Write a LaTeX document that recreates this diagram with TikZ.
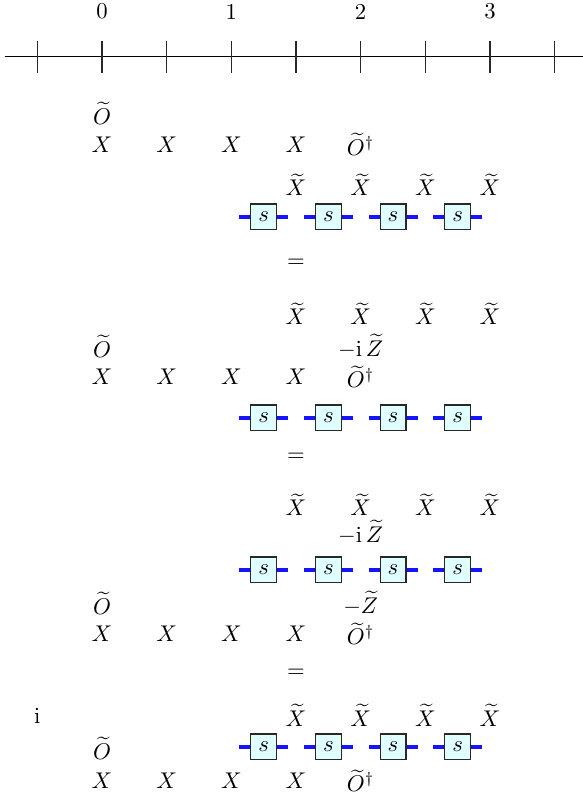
\documentclass[tikz,border=0pt]{standalone}
\usepackage{amsmath}
\usepackage{tikz}
\usetikzlibrary{positioning}
\definecolor{legblue}{RGB}{20,20,255}
\definecolor{boxfill}{RGB}{224,255,255}
\definecolor{mydark}{RGB}{40,40,40}
\tikzset{
  sbox/.style={rectangle, draw=mydark, fill=boxfill,
    minimum size=0.4cm, inner sep=0pt, line width=0.5pt},
  leg/.style={color=legblue, line width=1.9pt},
  axtick/.style={color=mydark, line width=0.5pt},
  axline/.style={color=black, line width=0.5pt}
}

\begin{document}
\begin{tikzpicture}[inner sep=1pt]
  \useasboundingbox (-1.577,0.88) rectangle (7.423,-11.444);

  % axis
  \coordinate (axl) at (-1.5,0);
  \coordinate (axr) at (7.6,0);
  \draw[axline] (axl) -- (axr);
  \foreach \t in {-1,...,7} \draw[axtick] (\t,0.25) -- (\t,-0.25);
  \node (n0) at (0,0.7) {0};
  \node (n1) at (2,0.7) {1};
  \node (n2) at (4,0.7) {2};
  \node (n3) at (6,0.7) {3};

  % first line
  \node (Oa) at (0,-0.874) {$\widetilde{O}$};
  \node (Xa1) at (0,-1.356) {$X$};
  \node (Xa2) at (1,-1.356) {$X$};
  \node (Xa3) at (2,-1.356) {$X$};
  \node (Xa4) at (3,-1.356) {$X$};
  \node (Oda) at (4,-1.356) {$\widetilde{O}^\dagger$};
  \node (Ta1) at (3,-1.979) {$\widetilde{X}$};
  \node (Ta2) at (4,-1.979) {$\widetilde{X}$};
  \node (Ta3) at (5,-1.979) {$\widetilde{X}$};
  \node (Ta4) at (6,-1.979) {$\widetilde{X}$};
  \node[sbox] (sa1) at (2.5,-2.474) {$s$};
  \node[sbox] (sa2) at (3.5,-2.474) {$s$};
  \node[sbox] (sa3) at (4.5,-2.474) {$s$};
  \node[sbox] (sa4) at (5.5,-2.474) {$s$};
  \node (eqa) at (3,-3.185) {$=$};

  % second line
  \node (Tb1) at (3,-3.974) {$\widetilde{X}$};
  \node (Tb2) at (4,-3.974) {$\widetilde{X}$};
  \node (Tb3) at (5,-3.974) {$\widetilde{X}$};
  \node (Tb4) at (6,-3.974) {$\widetilde{X}$};
  \node (Zb) at (4,-4.47) {$-\mathrm{i}\,\widetilde{Z}$};
  \node (Ob) at (0,-4.47) {$\widetilde{O}$};
  \node (Xb1) at (0,-4.948) {$X$};
  \node (Xb2) at (1,-4.948) {$X$};
  \node (Xb3) at (2,-4.948) {$X$};
  \node (Xb4) at (3,-4.948) {$X$};
  \node (Odb) at (4,-4.948) {$\widetilde{O}^\dagger$};
  \node[sbox] (sb1) at (2.5,-5.582) {$s$};
  \node[sbox] (sb2) at (3.5,-5.582) {$s$};
  \node[sbox] (sb3) at (4.5,-5.582) {$s$};
  \node[sbox] (sb4) at (5.5,-5.582) {$s$};
  \node (eqb) at (3,-6.185) {$=$};

  % third line
  \node (Tc1) at (3,-6.927) {$\widetilde{X}$};
  \node (Tc2) at (4,-6.927) {$\widetilde{X}$};
  \node (Tc3) at (5,-6.927) {$\widetilde{X}$};
  \node (Tc4) at (6,-6.927) {$\widetilde{X}$};
  \node (Zc) at (4,-7.345) {$-\mathrm{i}\,\widetilde{Z}$};
  \node[sbox] (sc1) at (2.5,-7.932) {$s$};
  \node[sbox] (sc2) at (3.5,-7.932) {$s$};
  \node[sbox] (sc3) at (4.5,-7.932) {$s$};
  \node[sbox] (sc4) at (5.5,-7.932) {$s$};
  \node (Zc2) at (4,-8.443) {$-\widetilde{Z}$};
  \node (Oc) at (0,-8.443) {$\widetilde{O}$};
  \node (Xc1) at (0,-8.922) {$X$};
  \node (Xc2) at (1,-8.922) {$X$};
  \node (Xc3) at (2,-8.922) {$X$};
  \node (Xc4) at (3,-8.922) {$X$};
  \node (Odc) at (4,-8.922) {$\widetilde{O}^\dagger$};
  \node (eqc) at (3,-9.525) {$=$};

  % fourth line
  \node (pre) at (-1,-10.19) {$\mathrm{i}$};
  \node (Td1) at (3,-10.175) {$\widetilde{X}$};
  \node (Td2) at (4,-10.175) {$\widetilde{X}$};
  \node (Td3) at (5,-10.175) {$\widetilde{X}$};
  \node (Td4) at (6,-10.175) {$\widetilde{X}$};
  \node[sbox] (sd1) at (2.5,-10.67) {$s$};
  \node[sbox] (sd2) at (3.5,-10.67) {$s$};
  \node[sbox] (sd3) at (4.5,-10.67) {$s$};
  \node[sbox] (sd4) at (5.5,-10.67) {$s$};
  \node (Od) at (0,-10.685) {$\widetilde{O}$};
  \node (Xd1) at (0,-11.195) {$X$};
  \node (Xd2) at (1,-11.195) {$X$};
  \node (Xd3) at (2,-11.195) {$X$};
  \node (Xd4) at (3,-11.195) {$X$};
  \node (Odd) at (4,-11.195) {$\widetilde{O}^\dagger$};

  % legs of the s boxes
  \foreach \b in {sa1,sa2,sa3,sa4,sb1,sb2,sb3,sb4,sc1,sc2,sc3,sc4,sd1,sd2,sd3,sd4}
    \draw[leg] (\b.west) -- ++(-0.17,0) (\b.east) -- ++(0.17,0);
\end{tikzpicture}
\end{document}
